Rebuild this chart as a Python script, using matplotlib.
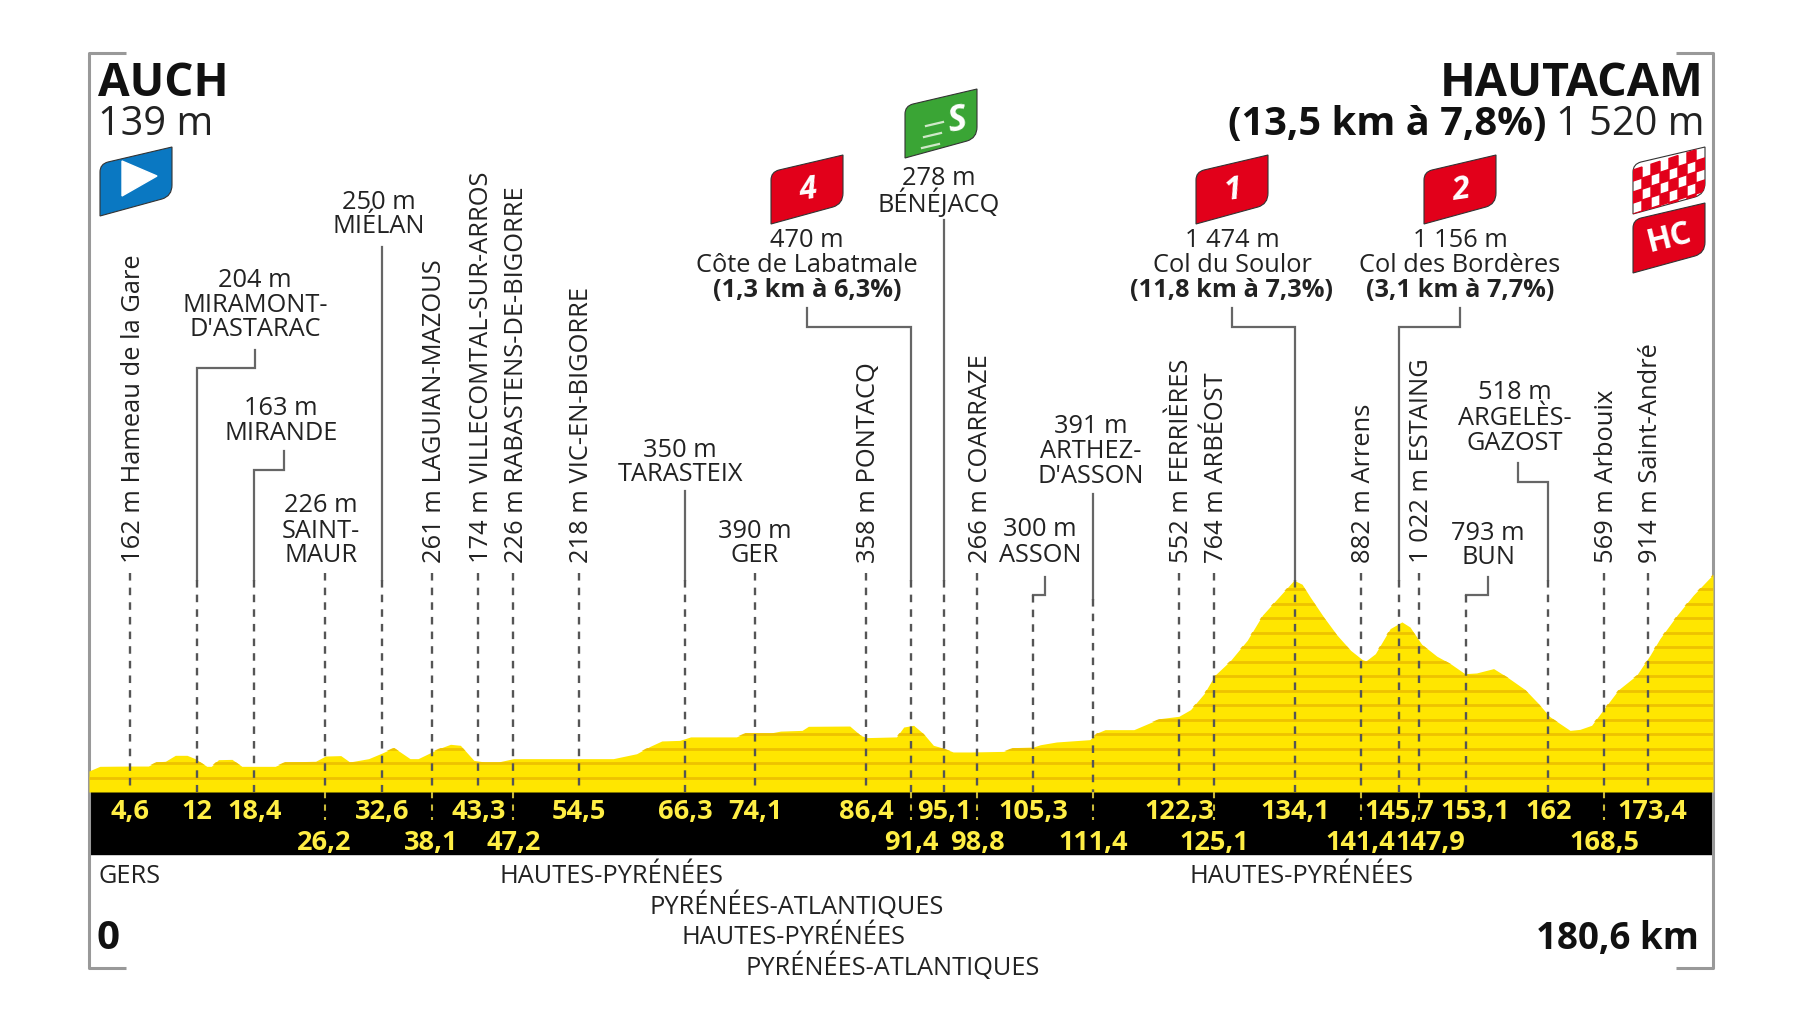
"""
Tour stage profile: Auch - Hautacam, 180,6 km
"""
import matplotlib
matplotlib.use('Agg')
import matplotlib.pyplot as plt
from matplotlib.path import Path
from matplotlib.patches import PathPatch, Rectangle, Polygon
from matplotlib.transforms import blended_transform_factory

plt.rcParams['font.family'] = ['Open Sans', 'DejaVu Sans']

# Profile
km = [0, 1.2, 4.6, 6.6, 7.5, 8.5, 9.6, 10.9, 11.8, 13.1, 13.6, 14.4, 15.9, 17, 20.7, 21.8, 25.2, 26.3,
      28, 29, 31.1, 32.6, 33.9, 35.7, 36.6, 38.9, 40.2, 41.3, 42.8, 44, 45.5, 47.2, 58.3, 60.9, 62.4,
      63.7, 65.7, 66.9, 72, 73, 75.8, 76.9, 79.3, 80, 84.6, 85.8, 86.5, 89.8, 90.6, 91.7, 92.8, 93.9,
      94.8, 96.1, 98, 101.7, 102.8, 105, 105.8, 107.6, 111.3, 112.1, 113, 116.2, 117.6, 119.1, 121.2,
      122.5, 124, 125.2, 126.9, 128.8, 130.5, 132.5, 134, 134.9, 135.8, 137.3, 138.8, 140.3, 141.6,
      142, 143.05, 144.7, 146, 146.9, 148.2, 149.9, 151.4, 153, 154.3, 156.2, 157.7, 159.7, 161.2,
      162.4, 163.6, 164.7, 165.8, 167.1, 168.3, 170.1, 172.1, 173.6, 174.7, 176.6, 178.4, 180.6]
elev = [145, 177, 179, 179, 207, 212, 253, 253, 230, 177, 177, 223, 225, 177, 177, 207, 212, 248,
        251, 207, 230, 269, 306, 230, 230, 299, 329, 322, 218, 207, 207, 230, 230, 264, 315,
        352, 356, 380, 380, 407, 407, 420, 425, 453, 455, 391, 375, 380, 448, 460, 402, 322,
        306, 276, 276, 280, 306, 310, 326, 345, 361, 407, 430, 430, 467, 506, 522,
        568, 678, 805, 904, 1046, 1220, 1357, 1460, 1433, 1345, 1207, 1081, 977, 913,
        904, 954, 1127, 1173, 1138, 1019, 936, 885, 816, 821, 851, 793, 706, 609,
        522, 471, 425, 432, 460, 559, 706, 805, 943, 1058, 1219, 1357, 1500]

checkpoints = [4.6, 12, 18.4, 26.2, 32.6, 38.1, 43.3, 47.2, 54.5, 66.3, 74.1, 86.4, 91.4, 95.1, 98.8,
               105.3, 111.4, 122.3, 125.1, 134.1, 141.4, 145.7, 147.9, 153.1, 162, 168.5, 173.4]
row1_km = [4.6, 12, 18.4, 32.6, 43.3, 54.5, 66.3, 74.1, 86.4, 95.1, 105.3, 122.3, 134.1, 145.7, 153.1, 162, 173.4]
row1_lab = ['4,6', '12', '18,4', '32,6', '43,3', '54,5', '66,3', '74,1', '86,4', '95,1', '105,3', '122,3',
            '134,1', '145,7', '153,1', '162', '173,4']
row2_km = [26.2, 38.1, 47.2, 91.4, 98.8, 111.4, 125.1, 141.4, 147.9, 168.5]
row2_lab = ['26,2', '38,1', '47,2', '91,4', '98,8', '111,4', '125,1', '141,4', '147,9', '168,5']

vert_km = [4.6, 38.1, 43.3, 47.2, 54.5, 86.4, 98.8, 122.3, 125.1, 141.4, 147.9, 168.5, 173.4]
vert_lab = ['162 m Hameau de la Gare', '261 m LAGUIAN-MAZOUS', '174 m VILLECOMTAL-SUR-ARROS',
            '226 m RABASTENS-DE-BIGORRE', '218 m VIC-EN-BIGORRE', '358 m PONTACQ', '266 m COARRAZE',
            '552 m FERRIÈRES', '764 m ARBÉOST', '882 m Arrens', '1 022 m ESTAING', '569 m Arbouix',
            '914 m Saint-André']

X0, X1, BASE, PX_PER_M = 89, 1713, 792, 0.145
YELLOW, STRIPE = '#ffe600', '#eec200'
# the picture puts a few checkpoints slightly off their distance
drawn_at = {122.3: 121.2, 162: 162.3, 111.4: 111.7, 105.3: 105.0}

fig = plt.figure(figsize=(18, 10.13), dpi=100)
pix = fig.add_axes([0, 0, 1, 1])
pix.set_xlim(0, 1800)
pix.set_ylim(1013, 0)
pix.axis('off')

ax = fig.add_axes([X0 / 1800, (1013 - BASE) / 1013, (X1 - X0) / 1800, BASE / 1013])
ax.set_xlim(0, 180.6)
ax.set_ylim(0, BASE / PX_PER_M)
ax.axis('off')
ax.patch.set_alpha(0)

# km on x, pixels on y
km_pix = blended_transform_factory(ax.transData, pix.transData)


def km_to_px(c):
    return pix.transData.inverted().transform(ax.transData.transform((drawn_at.get(c, c), 0)))[0]


# Profile with 100 m stripes
poly = ax.fill_between(km, elev, 0, color=YELLOW, lw=0, zorder=2)
stripes = ax.hlines(range(100, 1600, 100), 0, 180.6, color=STRIPE, lw=2.0, zorder=3)
stripes.set_clip_path(poly.get_paths()[0], transform=ax.transData)

# Band and frame
pix.add_patch(Rectangle((X0, BASE), X1 - X0, 62, color='black', zorder=1))
frame = dict(color='#999999', lw=2.2, solid_capstyle='butt')
pix.plot([126, X0, X0, 126], [53, 53, 968, 968], **frame)
pix.plot([1676, X1, X1, 1676], [53, 53, 968, 968], **frame)

# Checkpoint dashes
dash = dict(color='#555555', lw=1.7, dashes=(3.2, 3.0), zorder=4, transform=km_pix, clip_on=False)
dash_top = {105.3: 595, 153.1: 595, 111.4: 599, 12: 580, 18.4: 580, 32.6: 580, 66.3: 580, 91.4: 580,
            95.1: 580, 134.1: 580, 145.7: 580, 162: 580}
for c in checkpoints:
    x = drawn_at.get(c, c)
    ax.plot([x, x], [dash_top.get(c, 573), BASE], **dash)
for c in row2_km:
    x = drawn_at.get(c, c)
    ax.plot([x, x], [BASE, 820], color='#c9b93a', lw=1.5, dashes=(3, 3), zorder=6,
            transform=km_pix, clip_on=False)

# Leader lines, from the checkpoint up to the label
leaders = [
    (12, 580, [(368, None), (368, 255), (350, 255)]),
    (18.4, 580, [(470, None), (470, 284), (451, 284)]),
    (32.6, 580, [(247, None)]),
    (66.3, 580, [(491, None)]),
    (91.4, 580, [(327, None), (327, 807), (308, 807)]),
    (95.1, 580, [(220, None)]),
    (105.3, 595, [(595, 1045), (577, 1045)]),
    (111.4, 599, [(494, None)]),
    (134.1, 580, [(327, None), (327, 1232), (308, 1232)]),
    (145.7, 580, [(327, None), (327, 1460), (308, 1460)]),
    (153.1, 595, [(595, 1488), (577, 1488)]),
    (162, 580, [(482, None), (482, 1518), (463, 1518)]),
]
for c, low, pts in leaders:
    x0 = km_to_px(c)
    xs = [x0] + [x0 if p[1] is None else p[1] for p in pts]
    ys = [low] + [p[0] for p in pts]
    pix.plot(xs, ys, color='#666666', lw=1.6, zorder=4, solid_joinstyle='miter')

# Vertical labels
for c, s in zip(vert_km, vert_lab):
    ax.text(drawn_at.get(c, c) + 0.3, 563, s, transform=km_pix, rotation=90, ha='center', va='bottom',
            fontsize=18.4, color='#222222', clip_on=False, zorder=5)

# Stacked labels: lines with their pixel y, bold flag last
stacks = [
    (255, [('204 m', 280), ('MIRAMONT-', 305), ("D'ASTARAC", 329)]),
    (281, [('163 m', 408), ('MIRANDE', 433)]),
    (321, [('226 m', 505), ('SAINT-', 531), ('MAUR', 555)]),
    (379, [('250 m', 202), ('MIÉLAN', 226)]),
    (680, [('350 m', 450), ('TARASTEIX', 474)]),
    (755, [('390 m', 531), ('GER', 555)]),
    (807, [('470 m', 240), ('Côte de Labatmale', 265), ('(1,3 km à 6,3%)', 290, True)]),
    (939, [('278 m', 178), ('BÉNÉJACQ', 203)]),
    (1040, [('300 m', 529), ('ASSON', 555)]),
    (1091, [('391 m', 426), ('ARTHEZ-', 451), ("D'ASSON", 476)]),
    (1232, [('1 474 m', 240), ('Col du Soulor', 265), ('(11,8 km à 7,3%)', 290, True)]),
    (1460, [('1 156 m', 240), ('Col des Bordères', 265), ('(3,1 km à 7,7%)', 290, True)]),
    (1488, [('793 m', 533), ('BUN', 557)]),
    (1515, [('518 m', 392), ('ARGELÈS-', 418), ('GAZOST', 443)]),
]
for x, lines in stacks:
    for line in lines:
        bold = len(line) > 2
        pix.text(x, line[1], line[0], ha='center', va='center', fontsize=18.3, color='#222222',
                 fontweight='bold' if bold else 'normal', zorder=5)

# Band numbers
shift = {147.9: 1.3, 153.1: 1.1, 173.4: 0.4}
for xs, labs, y in [(row1_km, row1_lab, 811.5), (row2_km, row2_lab, 842.5)]:
    for c, s in zip(xs, labs):
        ax.text(drawn_at.get(c, c) + shift.get(c, 0), y, s, transform=km_pix, ha='center', va='center',
                fontsize=19.5, fontweight='bold', color='#ffee44', clip_on=False, zorder=6)

# Departments
pix.text(98, 876.5, 'GERS', ha='left', va='center', fontsize=18.3, color='#222222')
for x, y, s in [(611, 876.5, 'HAUTES-PYRÉNÉES'), (797, 906, 'PYRÉNÉES-ATLANTIQUES'),
                (793, 937, 'HAUTES-PYRÉNÉES'), (893, 966.5, 'PYRÉNÉES-ATLANTIQUES'),
                (1301, 876.5, 'HAUTES-PYRÉNÉES')]:
    pix.text(x, y, s, ha='center', va='center', fontsize=18.3, color='#222222')

# Header and distances
pix.text(98, 83.5, 'AUCH', ha='left', va='center', fontsize=33, fontweight='bold', color='#111111')
pix.text(98, 124.8, '139 m', ha='left', va='center', fontsize=28.6, color='#222222')
pix.text(1704, 83.4, 'HAUTACAM', ha='right', va='center', fontsize=33.6, fontweight='bold', color='#111111')
pix.text(1704, 124.8, '1 520 m', ha='right', va='center', fontsize=28.6, color='#222222')
pix.text(1546, 124.8, '(13,5 km à 7,8%)', ha='right', va='center', fontsize=28.6, fontweight='bold', color='#111111')
pix.text(97, 938, '0', ha='left', va='center', fontsize=29, fontweight='bold', color='#111111')
pix.text(1699, 939, '180,6 km', ha='right', va='center', fontsize=26.5, fontweight='bold', color='#111111')


def flag(x, y, color, w=72, h=69):
    """Slanted pennant, x and y give the lower left corner in pixels."""
    verts = [(x, y), (x, y - h + 25), (x, y - h + 17), (x + 8, y - h + 15), (x + w, y - h),
             (x + w, y - 31), (x + w, y - 20), (x + w - 10, y - 17), (x, y), (x, y)]
    codes = [Path.MOVETO, Path.LINETO, Path.CURVE3, Path.CURVE3, Path.LINETO,
             Path.LINETO, Path.CURVE3, Path.CURVE3, Path.LINETO, Path.CLOSEPOLY]
    patch = PathPatch(Path(verts, codes), facecolor=color, edgecolor='#333333', lw=0.8, zorder=7)
    pix.add_patch(patch)
    return patch


RED = '#e2001a'
flag(100, 216, '#0a78c2')
pix.add_patch(Polygon([(122, 196), (122, 161), (157, 176)], color='white', zorder=8))

for x, y, s in [(771, 224, '4'), (1196, 224, '1'), (1424, 224, '2')]:
    flag(x, y, RED)
    pix.text(x + 37, y - 34, s, ha='center', va='center', fontsize=23, fontweight='bold',
             style='italic', color='white', rotation=8, zorder=8)

flag(905, 158, '#3aa535')
pix.text(957, 121, 'S', ha='center', va='center', fontsize=26, fontweight='bold', style='italic',
         color='white', rotation=10, zorder=8)
for dy, x1 in [(0, 943), (11, 941), (22, 939)]:
    pix.plot([x1 - 17, x1], [126 + dy, 122 + dy], color='#cfe8c8', lw=1.6, zorder=8)

check = flag(1633, 214, 'white', h=67)
for i in range(8):
    for j in range(6):
        if (i + j) % 2 == 0:
            x = 1633 + i * 9
            y = 147 + j * 11 + (72 - i * 9) * 0.32
            sq = Polygon([(x, y), (x + 9, y - 3), (x + 9, y + 8), (x, y + 11)], color=RED, zorder=8)
            pix.add_patch(sq)
            sq.set_clip_path(check)
flag(1633, 273, RED, h=70)
pix.text(1669, 238, 'HC', ha='center', va='center', fontsize=23, fontweight='bold', color='white',
         rotation=14, zorder=8)

plt.savefig('out.png', dpi=100, facecolor='white')
